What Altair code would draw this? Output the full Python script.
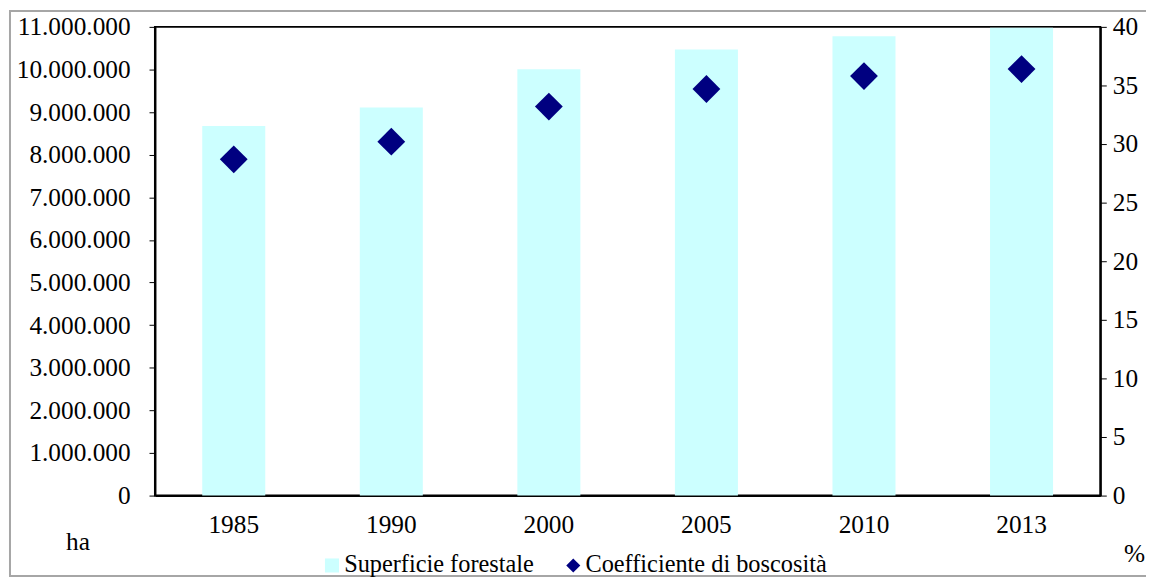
import altair as alt
import pandas as pd

anni = ["1985", "1990", "2000", "2005", "2010", "2013"]
superficie = [8675100, 9108000, 10003000, 10467533, 10780000, 10982013]
coefficiente = [28.7, 30.2, 33.2, 34.7, 35.8, 36.4]

S = "Superficie forestale"
C = "Coefficiente di boscosità"

df = pd.DataFrame({"anno": anni, "sup": superficie, "coef": coefficiente})
df["s1"] = S
df["s2"] = C

FONT = "Liberation Serif"
FS = 25.5
CYAN = "#CCFFFF"
NAVY = "#000080"

leg = alt.Legend(orient="none", legendX=166, legendY=530, direction="horizontal",
                 title=None, symbolSize=200, labelOffset=0, columnPadding=27,
                 padding=0, symbolStrokeWidth=0, labelLimit=600)

color_scale = alt.Scale(domain=[S, C], range=[CYAN, NAVY])
shape_scale = alt.Scale(domain=[S, C], range=["square", "diamond"])

xenc = alt.X("anno:N", sort=anni,
             scale=alt.Scale(paddingInner=0.6, paddingOuter=0.3),
             axis=alt.Axis(title=None, labelAngle=0, ticks=False, labelPadding=17))

bars = alt.Chart(df).mark_bar(color=CYAN).encode(
    x=xenc,
    y=alt.Y("sup:Q", scale=alt.Scale(domain=[0, 11000000], nice=False),
            axis=alt.Axis(title="ha", values=list(range(0, 11000001, 1000000)),
                          format=",d", tickSize=6, labelPadding=19,
                          titleX=-78, titleY=518)),
    color=alt.Color("s1:N", scale=color_scale, legend=leg),
    shape=alt.Shape("s1:N", scale=shape_scale, legend=leg),
)

points = alt.Chart(df).mark_point(filled=True, opacity=1, size=784).encode(
    x=alt.X("anno:N", sort=anni),
    y=alt.Y("coef:Q", scale=alt.Scale(domain=[0, 40], nice=False),
            axis=alt.Axis(title="%", orient="right", values=list(range(0, 41, 5)),
                          tickSize=6, labelPadding=6, titleX=34, titleY=530)),
    color=alt.Color("s2:N", scale=color_scale, legend=leg),
    shape=alt.Shape("s2:N", scale=shape_scale, legend=leg),
)

frame = alt.Chart(alt.Data(values=[{"a": 1}])).mark_rect(
    filled=False, stroke="#a6a6a6", strokeWidth=2
).encode(x=alt.value(-146), x2=alt.value(1100), y=alt.value(-16), y2=alt.value(553))

chart = alt.layer(frame, bars, points).resolve_scale(y="independent").properties(
    width=952, height=472,
    autosize=alt.AutoSizeParams(type="none"),
    padding={"left": 148, "top": 17, "right": 46, "bottom": 83},
).configure(
    font=FONT,
    locale={"number": {"decimal": ",", "thousands": ".", "grouping": [3],
                       "currency": ["", " €"]}},
).configure_view(stroke="black", strokeWidth=2).configure_axis(
    grid=False, labelFont=FONT, labelFontSize=FS, labelColor="black",
    domainColor="black", domainWidth=2, tickColor="black",
    titleFont=FONT, titleFontSize=FS, titleFontWeight="normal", titleColor="black",
    titleAngle=0, titleAlign="center", titleBaseline="middle",
).configure_legend(
    labelFont=FONT, labelFontSize=24.5, labelColor="black",
)

chart.save("out.html", embed_options={"renderer": "svg", "actions": False})
